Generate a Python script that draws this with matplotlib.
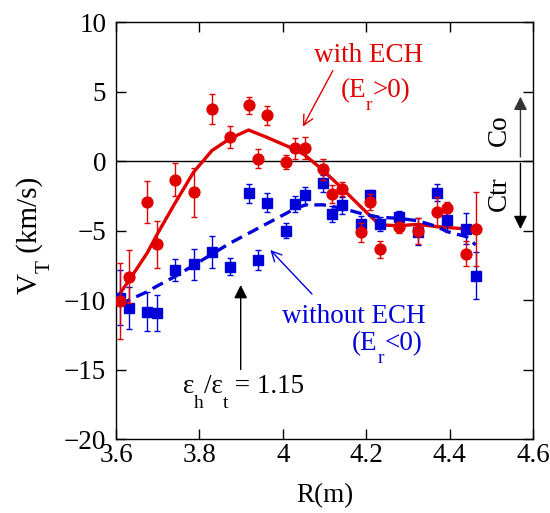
import matplotlib.pyplot as plt
import numpy as np

plt.rcParams['font.family'] = ['Liberation Serif', 'DejaVu Serif']
plt.rcParams['mathtext.fontset'] = 'stix'

# Measured toroidal rotation, with ECH (Er > 0)
r_ech = [3.61, 3.631, 3.675, 3.698, 3.742, 3.786, 3.83, 3.874, 3.918, 3.94,
         3.962, 4.008, 4.03, 4.054, 4.096, 4.119, 4.142, 4.187, 4.21, 4.232,
         4.278, 4.324, 4.37, 4.394, 4.44, 4.463]
v_ech = [-10.07, -8.32, -2.93, -6.0, -1.35, -2.25, 3.74, 1.73, 4.0, 0.17,
         3.29, -0.05, 0.91, 0.91, -0.6, -2.37, -1.99, -5.13, -2.95, -6.35,
         -4.77, -5.04, -3.67, -3.36, -6.67, -4.89]
e_ech = [2.75, 1.9, 1.5, 1.7, 1.2, 1.75, 1.1, 0.8, 0.6, 0.7,
         0.7, 0.5, 0.75, 0.8, 0.75, 0.65, 0.5, 0.7, 0.6, 0.6,
         0.4, 0.95, 1.05, 0.4, 0.9, 2.65]

# Measured toroidal rotation, without ECH (Er < 0)
r_noech = [3.61, 3.631, 3.675, 3.698, 3.742, 3.786, 3.83, 3.874, 3.918, 3.94,
           3.962, 4.008, 4.03, 4.054, 4.096, 4.119, 4.142, 4.187, 4.21, 4.232,
           4.278, 4.324, 4.37, 4.394, 4.44, 4.463]
v_noech = [-9.83, -10.55, -10.84, -10.96, -7.84, -7.43, -6.57, -7.6, -2.33, -7.12,
           -3.0, -5.01, -3.1, -2.47, -1.61, -3.81, -3.19, -4.53, -2.47, -4.53,
           -4.05, -5.08, -2.28, -4.24, -4.87, -8.25]
e_noech = [2.0, 1.5, 1.4, 1.3, 0.77, 1.1, 1.15, 0.6, 0.7, 0.7,
           0.7, 0.55, 0.6, 0.6, 0.6, 0.55, 0.6, 0.55, 0.4, 0.5,
           0.45, 0.95, 0.6, 0.8, 1.1, 1.7]

# Smoothed profiles
r_fit_ech = [3.61, 3.631, 3.675, 3.698, 3.742, 3.786, 3.83, 3.874, 3.918, 3.962,
             4.008, 4.03, 4.054, 4.096, 4.142, 4.187, 4.232, 4.278, 4.324, 4.37,
             4.44, 4.463]
v_fit_ech = [-9.5, -8.6, -6.6, -5.3, -3.0, -0.8, 0.75, 1.63, 2.23, 1.7,
             1.1, 0.84, 0.4, -0.65, -1.96, -3.29, -4.6, -4.65, -4.56, -4.72,
             -4.89, -4.96]
r_fit_noech = [3.61, 3.631, 3.675, 3.698, 3.742, 3.786, 3.83, 3.874, 3.918, 3.962,
               4.008, 4.03, 4.054, 4.096, 4.142, 4.187, 4.232, 4.278, 4.324, 4.37,
               4.394, 4.44, 4.463]
v_fit_noech = [-10.4, -10.0, -9.4, -9.0, -8.3, -7.5, -6.7, -5.9, -5.2, -4.5,
               -3.77, -3.4, -3.17, -3.15, -3.4, -3.77, -4.05, -4.12, -4.3, -4.72,
               -5.08, -5.44, -6.04]

xticks = [3.6, 3.8, 4.0, 4.2, 4.4, 4.6]
xticklabels = ['3.6', '3.8', '4', '4.2', '4.4', '4.6']
yticks = [-20, -15, -10, -5, 0, 5, 10]

RED = '#e00000'
BLUE = '#0000d8'
fs = 19.5
DPI = 100

fig = plt.figure(figsize=(5.5, 5.13), dpi=DPI)
ax = fig.add_axes([0.211, 0.1442, 0.758, 0.8129])
renderer = fig.canvas.get_renderer()
W, H = fig.bbox.width, fig.bbox.height


def sub_text(px, py, parts, size=fs, color='black', rotation=0,
             drop=9, scale=0.72):
    """Write text with low-set subscripts, centred on baseline point (px, py) in pixels.
    parts: list of (string, is_subscript)."""
    widths = []
    for s, sub in parts:
        t = fig.text(0, 0, s, fontsize=size * scale if sub else size)
        widths.append(t.get_window_extent(renderer).width)
        t.remove()
    th = np.deg2rad(rotation)
    d = np.array([np.cos(th), np.sin(th)])
    n = np.array([np.sin(th), -np.cos(th)])
    start = np.array([px, py]) - d * sum(widths) / 2
    acc = 0
    for (s, sub), w in zip(parts, widths):
        p = start + d * acc
        if sub:
            p = p + n * drop * DPI / 72
        fig.text(p[0] / W, p[1] / H, s, fontsize=size * scale if sub else size,
                 color=color, rotation=rotation, rotation_mode='anchor',
                 ha='left', va='baseline')
        acc += w


def data_px(x, y):
    return ax.transData.transform((x, y))


ax.axhline(0, color='black', lw=1, zorder=1)

ax.plot(r_fit_ech, v_fit_ech, color=RED, lw=2.4, zorder=2)
ax.plot(r_fit_noech, v_fit_noech, color=BLUE, lw=2.4, dashes=(3.5, 2), zorder=2)

ax.errorbar(r_noech, v_noech, yerr=e_noech, fmt='s', color=BLUE, ms=6.6,
            mec=BLUE, ecolor=BLUE, elinewidth=1, capsize=2.5, capthick=1, zorder=3)
ax.errorbar(r_ech, v_ech, yerr=e_ech, fmt='o', color=RED, ms=7.8,
            mec=RED, ecolor=RED, elinewidth=1, capsize=2.5, capthick=1, zorder=4)

ax.set_xlim(3.6, 4.6)
ax.set_ylim(-20, 10)

# labels for the two cases
ax.text(4.205, 7.6, 'with ECH', color=RED, fontsize=fs, ha='center', va='center')
sub_text(*data_px(4.222, 4.58), [('(E', 0), ('r', 1), ('>0)', 0)], color=RED)
ax.annotate('', xy=(4.048, 2.47), xytext=(4.12, 6.5),
            arrowprops=dict(arrowstyle='->', color=RED, lw=1,
                            mutation_scale=18, shrinkA=0, shrinkB=0))

ax.text(4.171, -11.15, 'without ECH', color=BLUE, fontsize=fs, ha='center', va='center')
sub_text(*data_px(4.25, -13.6), [('(E', 0), ('r', 1), ('<0)', 0)], color=BLUE)
ax.annotate('', xy=(3.97, -6.4), xytext=(4.07, -9.57),
            arrowprops=dict(arrowstyle='->', color=BLUE, lw=1,
                            mutation_scale=18, shrinkA=0, shrinkB=0))

sub_text(*data_px(3.9055, -16.71),
         [('\u03b5', 0), ('h', 1), ('/\u03b5', 0), ('t', 1), (' = 1.15', 0)],
         drop=10.5)
ax.annotate('', xy=(3.899, -8.92), xytext=(3.899, -15.0),
            arrowprops=dict(arrowstyle='-|>', color='black', lw=1,
                            mutation_scale=20, shrinkA=0, shrinkB=0))

# co / counter direction marks
ax.annotate('', xy=(4.57, 4.63), xytext=(4.57, 0.29),
            arrowprops=dict(arrowstyle='-|>', color='#333333', lw=1,
                            mutation_scale=20, shrinkA=0, shrinkB=0))
ax.annotate('', xy=(4.57, -4.9), xytext=(4.57, -0.17),
            arrowprops=dict(arrowstyle='-|>', color='black', lw=1,
                            mutation_scale=20, shrinkA=0, shrinkB=0))
ax.text(4.52, 2.23, 'Co', fontsize=fs, rotation=90, ha='center', va='center')
ax.text(4.52, -2.32, 'Ctr', fontsize=fs, rotation=90, ha='center', va='center')

ax.set_xticks(xticks)
ax.set_xticklabels(xticklabels)
ax.set_yticks(yticks)
ax.tick_params(direction='in', top=True, right=True, length=7, width=1,
               labelsize=fs)
ax.tick_params(axis='x', pad=3)
ax.tick_params(axis='y', pad=7)
for s in ax.spines.values():
    s.set_linewidth(1)

ax.set_xlabel('R(m)', fontsize=fs, labelpad=11)
# y axis label, baseline at x=37 px, centred at 235 px from the top
sub_text(37, H - 235, [('V', 0), ('T', 1), (' (km/s)', 0)], size=21,
         rotation=90, drop=9)

fig.savefig('out.png', dpi=DPI)
